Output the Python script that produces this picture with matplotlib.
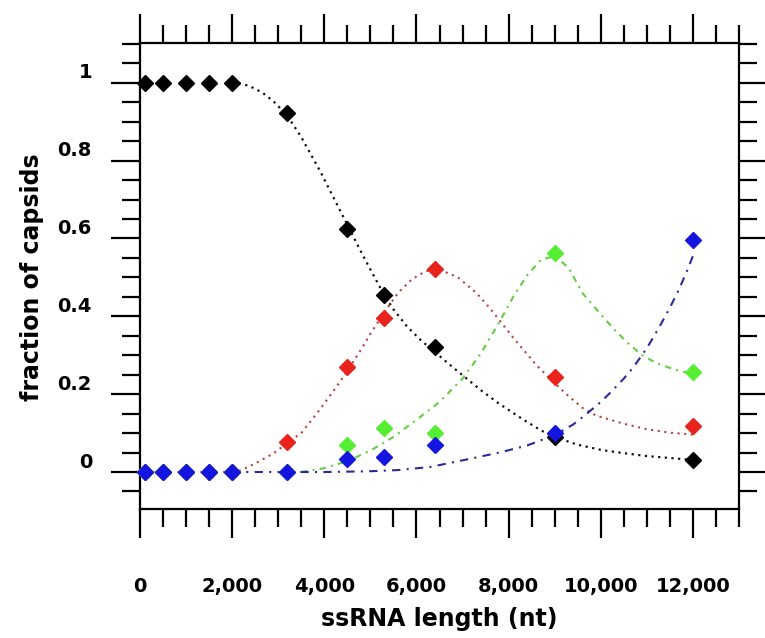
import matplotlib
matplotlib.use("Agg")
import matplotlib.pyplot as plt
import matplotlib.transforms as mtransforms
from matplotlib.ticker import MultipleLocator, FixedLocator

# ---- data ----
x_pts = [100, 500, 1000, 1500, 2000, 3200, 4500, 5300, 6400, 9000, 12000]
black_y = [1.0, 1.0, 1.0, 1.0, 1.0, 0.923, 0.625, 0.455, 0.321, 0.09, 0.031]
red_y = [0.0, 0.0, 0.0, 0.0, 0.0, 0.077, 0.27, 0.396, 0.522, 0.244, 0.118]
green_y = [0.0, 0.0, 0.0, 0.0, 0.0, 0.0, 0.069, 0.113, 0.100, 0.563, 0.257]
blue_y = [0.0, 0.0, 0.0, 0.0, 0.0, 0.0, 0.033, 0.039, 0.069, 0.100, 0.596]

# fitted curves
black_fit_x = [2000, 2200, 2400, 2650, 2900, 3200, 3500, 3900, 4200, 4500, 4800, 5000, 5300,
               5500, 5800, 6100, 6400, 6800, 7400, 7800, 8300, 8700, 9000, 9500, 10000, 10400,
               11000, 11500, 12000]
black_fit_y = [1.0, 0.998, 0.99, 0.975, 0.952, 0.915, 0.86, 0.775, 0.705, 0.635, 0.565, 0.52, 0.455,
               0.418, 0.373, 0.338, 0.308, 0.268, 0.21, 0.175, 0.136, 0.107, 0.09, 0.07, 0.057, 0.05,
               0.041, 0.036, 0.031]

red_fit_x = [2000, 2200, 2500, 2900, 3200, 3500, 3900, 4300, 4500, 4800, 5000, 5300, 5600,
             5900, 6200, 6500, 6900, 7300, 7600, 8100, 8600, 9000, 9300, 9600, 9900, 10500,
             11000, 11500, 12000]
red_fit_y = [0.0, 0.005, 0.022, 0.048, 0.075, 0.10, 0.16, 0.225, 0.26, 0.315, 0.355, 0.41, 0.46,
             0.495, 0.516, 0.52, 0.50, 0.46, 0.42, 0.345, 0.275, 0.228, 0.195, 0.165, 0.145, 0.124,
             0.11, 0.101, 0.096]

green_fit_x = [3500, 4000, 4500, 5000, 5500, 6000, 6500, 7000, 7400, 7800, 8100, 8400, 8700,
               9000, 9300, 9600, 10000, 10300, 10600, 10900, 11200, 11600, 12000]
green_fit_y = [0.0, 0.01, 0.028, 0.055, 0.09, 0.134, 0.18, 0.24, 0.305, 0.385, 0.45, 0.505, 0.545,
               0.555, 0.525, 0.46, 0.405, 0.365, 0.33, 0.30, 0.28, 0.263, 0.252]

blue_fit_x = [0, 2000, 4000, 5000, 5600, 6300, 7000, 7800, 8400, 9000, 9400, 9700, 10000, 10200,
              10500, 10700, 11000, 11250, 11500, 11700, 11850, 12000]
blue_fit_y = [0.0, 0.0, 0.0, 0.002, 0.005, 0.013, 0.03, 0.05, 0.068, 0.095, 0.122, 0.15, 0.18, 0.203,
              0.24, 0.268, 0.318, 0.368, 0.422, 0.47, 0.51, 0.555]

x_major = [0, 2000, 4000, 6000, 8000, 10000, 12000]
x_labels = ["0", "2,000", "4,000", "6,000", "8,000", "10,000", "12,000"]
y_major = [0, 0.2, 0.4, 0.6, 0.8, 1.0]
y_labels = ["0", "0.2", "0.4", "0.6", "0.8", "1"]

# ---- figure ----
plt.rcParams['font.family'] = ['DejaVu Sans']
fig = plt.figure(figsize=(7.65, 6.38), dpi=100)
ax = fig.add_axes([140 / 765, 1 - 509 / 638, (739 - 140) / 765, (509 - 43) / 638])

BLACK = "#000000"
RED = "#e8231c"
GREEN = "#55ee30"
BLUE = "#1515e0"

ax.plot(black_fit_x, black_fit_y, linestyle=(0, (1, 2)), color="#111111", lw=1.6, zorder=2)
ax.plot(red_fit_x, red_fit_y, linestyle=(0, (1, 2.2)), color="#b84040", lw=1.5, zorder=2)
ax.plot(green_fit_x, green_fit_y, linestyle=(0, (3, 2.5, 1, 2.5)), color="#66cc44", lw=1.5, zorder=2)
ax.plot(blue_fit_x, blue_fit_y, linestyle=(0, (4, 3, 1, 3)), color="#2a2a9a", lw=1.5, zorder=2)

ms = 8.5
ax.plot(x_pts, black_y, "D", color=BLACK, ms=ms, mec=BLACK, zorder=3, clip_on=False)
ax.plot(x_pts, red_y, "D", color=RED, ms=ms, mec=RED, zorder=4, clip_on=False)
ax.plot(x_pts, green_y, "D", color=GREEN, ms=ms, mec=GREEN, zorder=5, clip_on=False)
ax.plot(x_pts, blue_y, "D", color=BLUE, ms=ms, mec=BLUE, zorder=6, clip_on=False)

ax.set_xlim(0, 13000)
ax.set_ylim(-0.095, 1.102)

for s in ax.spines.values():
    s.set_linewidth(1.6)

ax.xaxis.set_major_locator(FixedLocator(x_major))
ax.xaxis.set_minor_locator(MultipleLocator(500))
ax.yaxis.set_major_locator(FixedLocator(y_major))
ax.yaxis.set_minor_locator(MultipleLocator(0.05))

ax.tick_params(which="both", direction="out", top=True, right=True, width=1.6, color="black")
ax.tick_params(which="major", length=21)
ax.tick_params(which="minor", length=13)
ax.tick_params(axis="x", which="major", pad=28, labelsize=14)
ax.set_xticklabels(x_labels, fontweight="bold", fontsize=14)
ax.tick_params(axis="y", labelleft=False)

offset = mtransforms.ScaledTranslation(-0.48, 0.10, fig.dpi_scale_trans)
ytrans = ax.get_yaxis_transform() + offset
for yv, lab in zip(y_major, y_labels):
    ax.text(0, yv, lab, transform=ytrans, ha="right", va="center",
            fontsize=14, fontweight="bold")

ax.set_xlabel("ssRNA length (nt)", fontsize=17, fontweight="bold")
ax.xaxis.set_label_coords(0.5, -0.21)
ax.set_ylabel("fraction of capsids", fontsize=17, fontweight="bold")
ax.yaxis.set_label_coords(-0.16, 0.498)

fig.savefig("out.png", dpi=100)
